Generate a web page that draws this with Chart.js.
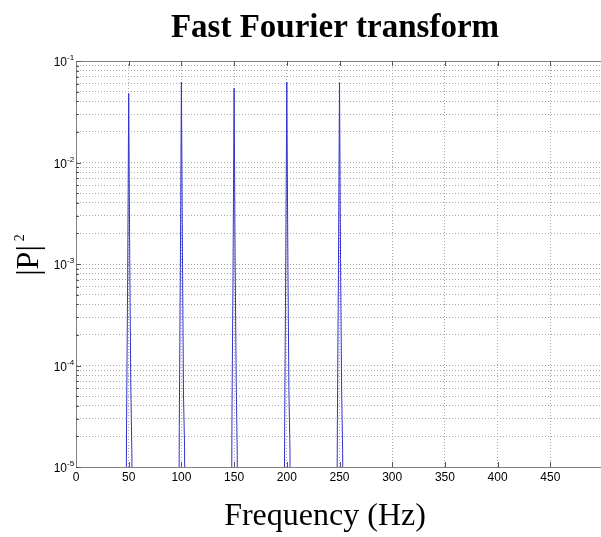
<!DOCTYPE html>
<html><head><meta charset="utf-8">
<script src="https://cdn.jsdelivr.net/npm/chart.js@4.4.0/dist/chart.umd.min.js"></script>
<style>
html,body{margin:0;padding:0;background:#fff;overflow:hidden;width:601px;height:537px}
#wrap{width:603px;height:537px;position:relative}
</style></head>
<body><div id="wrap"><canvas id="c" width="603" height="537"></canvas></div>
<script>
const titleText = 'Fast Fourier transform';
const xLabel = 'Frequency (Hz)';
const yLabelMain = '|P|';
const yLabelSup = '2';
const xTicks = [0, 50, 100, 150, 200, 250, 300, 350, 400, 450];
const yExponents = [-5, -4, -3, -2, -1];
const yMultipliers = [1, 2, 3, 4, 5, 6, 7, 8, 9];

const freqs = [0,
  47, 48, 49, 50, 51, 52, 53, 54,
  97, 98, 99, 100, 101, 102, 103, 104,
  147, 148, 149, 150, 151, 152, 153, 154,
  197, 198, 199, 200, 201, 202, 203, 204,
  247, 248, 249, 250, 251, 252, 253, 254,
  500];
const power = [1e-7,
  1e-7, 3.0e-5, 7e-4, 0.048, 1.1e-3, 6e-5, 1.4e-5, 1e-7,
  1e-7, 2.5e-5, 9e-4, 0.062, 1.3e-3, 5e-5, 1.6e-5, 1e-7,
  1e-7, 3.5e-5, 8e-4, 0.054, 1.0e-3, 7e-5, 1.3e-5, 1e-7,
  1e-7, 2.8e-5, 1.0e-3, 0.062, 1.2e-3, 5.5e-5, 1.5e-5, 1e-7,
  1e-7, 3.0e-5, 9e-4, 0.061, 1.1e-3, 6e-5, 1.4e-5, 1e-7,
  1e-7];

const points = freqs.map((f, i) => ({x: f, y: power[i]}));

const decor = {
  id: 'decor',
  afterDraw(chart) {
    const ctx = chart.ctx;
    const a = chart.chartArea;
    const xs = chart.scales.x, ys = chart.scales.y;
    ctx.save();
    // top border
    ctx.strokeStyle = '#808080';
    ctx.lineWidth = 1;
    ctx.beginPath();
    ctx.moveTo(a.left, a.top + 0.5); ctx.lineTo(a.right, a.top + 0.5);
    ctx.stroke();
    // inner x ticks
    ctx.strokeStyle = '#555';
    xTicks.forEach(v => {
      if (v === 0) return;
      const px = Math.round(xs.getPixelForValue(v)) + 0.5;
      ctx.beginPath();
      ctx.moveTo(px, a.bottom); ctx.lineTo(px, a.bottom - 5);
      ctx.moveTo(px, a.top); ctx.lineTo(px, a.top + 5);
      ctx.stroke();
    });
    // inner y ticks
    yExponents.forEach(e => {
      yMultipliers.forEach(m => {
        const v = m * Math.pow(10, e);
        if (v > 0.1000001) return;
        const py = Math.round(ys.getPixelForValue(v)) + 0.5;
        const len = m === 1 ? 5 : 3;
        ctx.beginPath();
        ctx.moveTo(a.left, py); ctx.lineTo(a.left + len, py);
        ctx.stroke();
      });
    });
    // y tick labels
    ctx.fillStyle = '#000';
    yExponents.forEach(e => {
      const py = ys.getPixelForValue(Math.pow(10, e));
      ctx.font = '12px "Liberation Sans", Arial, sans-serif';
      ctx.textAlign = 'right';
      ctx.textBaseline = 'alphabetic';
      ctx.fillText('10', 67, py + 5);
      ctx.font = '8px "Liberation Sans", Arial, sans-serif';
      ctx.textAlign = 'left';
      ctx.fillText('-' + Math.abs(e), 67, py - 1);
    });
    // x tick labels
    ctx.font = '12px "Liberation Sans", Arial, sans-serif';
    ctx.textAlign = 'center';
    ctx.textBaseline = 'middle';
    xTicks.forEach(v => {
      ctx.fillText(String(v), xs.getPixelForValue(v), 478);
    });
    // title
    ctx.font = 'bold 33px "Liberation Serif", "Times New Roman", serif';
    ctx.textAlign = 'center';
    ctx.textBaseline = 'alphabetic';
    ctx.fillText(titleText, 335, 37);
    // x label
    ctx.font = '32px "Liberation Serif", "Times New Roman", serif';
    ctx.fillText(xLabel, 325, 525);
    // y label (rotated, with small superscript)
    ctx.translate(38, 255);
    ctx.rotate(-Math.PI / 2);
    ctx.textAlign = 'left';
    ctx.textBaseline = 'alphabetic';
    ctx.font = '32px "Liberation Serif", "Times New Roman", serif';
    const wMain = ctx.measureText(yLabelMain).width;
    ctx.font = '14px "Liberation Serif", "Times New Roman", serif';
    const wSup = ctx.measureText(yLabelSup).width;
    const start = -(wMain + 4 + wSup) / 2;
    ctx.font = '32px "Liberation Serif", "Times New Roman", serif';
    ctx.fillText(yLabelMain, start, 0);
    ctx.font = '14px "Liberation Serif", "Times New Roman", serif';
    ctx.fillText(yLabelSup, start + wMain + 4, -14);
    ctx.restore();
  }
};

new Chart(document.getElementById('c'), {
  type: 'line',
  data: {
    datasets: [{
      data: points,
      borderColor: 'rgb(50,50,205)',
      borderWidth: 1,
      pointRadius: 0,
      tension: 0,
      fill: false
    }]
  },
  options: {
    responsive: false,
    animation: false,
    devicePixelRatio: 1,
    layout: {padding: {top: 61, left: 0, right: 0, bottom: 0}},
    plugins: {legend: {display: false}, title: {display: false}, tooltip: {enabled: false}},
    scales: {
      x: {
        type: 'linear', min: 0, max: 500,
        afterBuildTicks: s => { s.ticks = xTicks.map(v => ({value: v})); },
        afterFit: s => { s.height = 70; },
        ticks: {display: false},
        grid: {color: '#a8a8a8', lineWidth: 1, drawTicks: false},
        border: {display: true, color: '#808080', width: 1, dash: [1, 2]}
      },
      y: {
        type: 'logarithmic', min: 1e-5, max: 1e-1,
        afterBuildTicks: s => {
          const t = [];
          yExponents.forEach(e => yMultipliers.forEach(m => {
            const v = m * Math.pow(10, e);
            if (v <= 0.1000001) t.push({value: v});
          }));
          s.ticks = t;
        },
        afterFit: s => { s.width = 76; },
        ticks: {display: false},
        grid: {color: '#a8a8a8', lineWidth: 1, drawTicks: false},
        border: {display: true, color: '#808080', width: 1, dash: [1, 2]}
      }
    }
  },
  plugins: [decor]
});
</script>
</body></html>
